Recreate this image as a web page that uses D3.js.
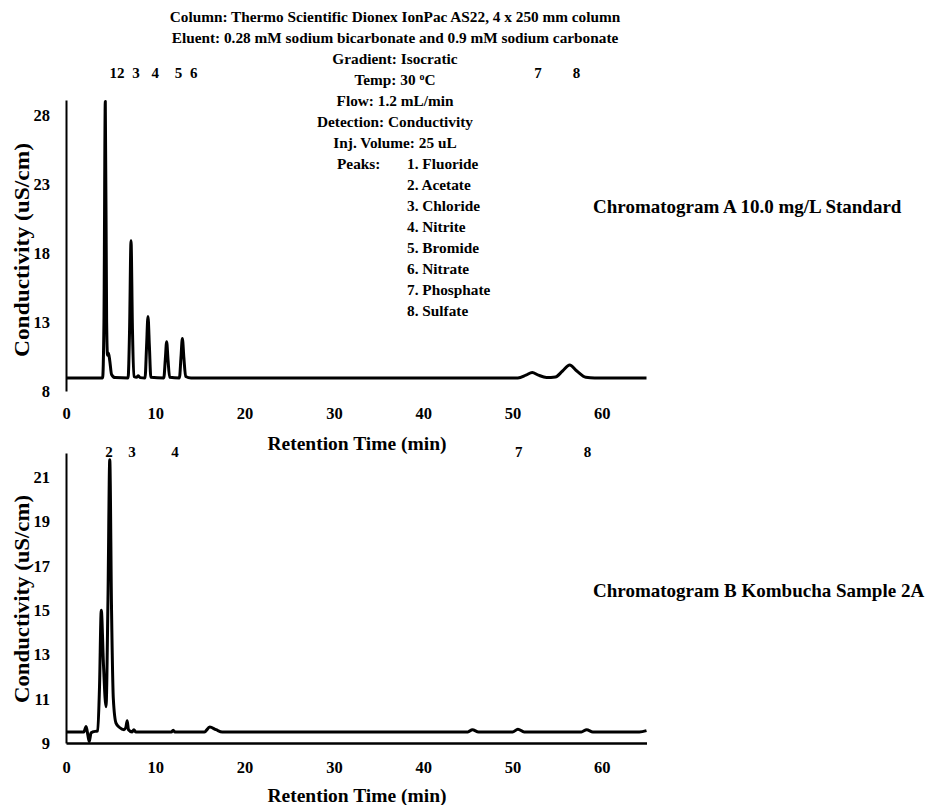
<!DOCTYPE html>
<html>
<head>
<meta charset="utf-8">
<script src="https://cdn.jsdelivr.net/npm/d3@7"></script>
<style>
  html, body { margin: 0; padding: 0; background: #fff; }
  svg { display: block; }
  text { font-family: "Liberation Serif", "Times New Roman", serif; font-weight: bold; fill: #000; }
</style>
</head>
<body>
<svg id="chart" width="932" height="805"></svg>
<script>
// ---------- data ----------
const xTicks = [0, 10, 20, 30, 40, 50, 60];
const yTicksA = [8, 13, 18, 23, 28];
const yTicksB = [9, 11, 13, 15, 17, 19, 21];

// Chromatogram A (10.0 mg/L standard): retention time (min) and conductivity (uS/cm)
const timeA = [0, 4.1, 4.25, 4.4, 4.55, 4.65, 4.75, 4.9, 5.1, 5.5, 6.95, 7.12, 7.28, 7.44, 7.6, 7.9, 8.1, 8.3, 8.85, 9.02, 9.18, 9.34, 9.5, 10.95, 11.12, 11.27, 11.42, 11.6, 12.7, 12.87, 13.03, 13.2, 13.4, 14.0, 50.6, 51.5, 52.2, 52.9, 53.8, 54.8, 55.6, 56.4, 57.2, 58.2, 59.2, 65];
const valueA = [8.95, 8.95, 13, 29.0, 13, 10.6, 10.75, 10.2, 9.2, 8.97, 8.95, 12.5, 18.9, 12.5, 9.05, 9.0, 9.1, 8.97, 8.95, 11.2, 13.4, 11.2, 9.0, 8.95, 10.3, 11.57, 10.3, 9.0, 8.95, 10.4, 11.8, 10.4, 9.05, 8.95, 8.95, 9.15, 9.35, 9.15, 8.98, 9.02, 9.45, 9.88, 9.45, 9.0, 8.95, 8.95];

// Chromatogram B (Kombucha sample 2A)
const timeB = [0, 2.0, 2.25, 2.45, 2.6, 2.8, 3.0, 3.55, 3.75, 3.95, 4.2, 4.48, 4.7, 4.9, 5.1, 5.3, 5.6, 6.0, 6.5, 6.7, 6.85, 7.0, 7.4, 7.6, 7.8, 11.8, 12.0, 12.2, 15.5, 16.1, 16.8, 17.5, 45.0, 45.5, 46.2, 50.0, 50.6, 51.3, 57.7, 58.3, 59.0, 64.2, 65];
const valueB = [9.5, 9.5, 9.75, 9.35, 9.07, 9.45, 9.5, 9.55, 11.5, 15.0, 12.5, 10.64, 15.5, 21.8, 15, 11, 9.9, 9.7, 9.6, 9.7, 10.0, 9.6, 9.5, 9.6, 9.5, 9.5, 9.58, 9.5, 9.5, 9.72, 9.6, 9.5, 9.5, 9.6, 9.5, 9.5, 9.62, 9.5, 9.5, 9.6, 9.5, 9.5, 9.56];

// peak number labels (text, retention time position)
const peakLabelsA = ["12", "3", "4", "5", "6", "7", "8"];
const peakLabelTimesA = [5.7, 7.85, 10.0, 12.6, 14.3, 52.85, 57.15];
const peakLabelsB = ["2", "3", "4", "7", "8"];
const peakLabelTimesB = [4.82, 7.4, 12.2, 50.7, 58.4];

const infoLines = [
  "Column: Thermo Scientific Dionex IonPac AS22, 4 x 250 mm column",
  "Eluent: 0.28 mM sodium bicarbonate and 0.9 mM sodium carbonate",
  "Gradient: Isocratic",
  "TEMP",
  "Flow: 1.2 mL/min",
  "Detection: Conductivity",
  "Inj. Volume: 25 uL"
];
const peakNames = ["1. Fluoride", "2. Acetate", "3. Chloride", "4. Nitrite", "5. Bromide", "6. Nitrate", "7. Phosphate", "8. Sulfate"];

const titleA = "Chromatogram A 10.0 mg/L Standard";
const titleB = "Chromatogram B Kombucha Sample 2A";
const yTitle = "Conductivity (uS/cm)";
const xTitle = "Retention Time (min)";

// ---------- drawing ----------
const svg = d3.select("#chart");
svg.append("rect").attr("width", 932).attr("height", 805).attr("fill", "#fff");

const xA = d3.scaleLinear().domain([0, 65]).range([66, 646.5]);
const xB = d3.scaleLinear().domain([0, 65]).range([66, 646.5]);
const yA = d3.scaleLinear().domain([8, 29.1]).range([391, 100]);
const yB = d3.scaleLinear().domain([9, 22.1]).range([743, 453]);

function styleAxisText(g, size) {
  g.selectAll("text").style("font-size", size + "px")
    .style("font-family", '"Liberation Serif", "Times New Roman", serif')
    .style("font-weight", "bold").attr("fill", "#000");
}

// Y axes
const gYA = svg.append("g").attr("transform", "translate(66,0)")
  .call(d3.axisLeft(yA).tickValues(yTicksA).tickSize(0).tickPadding(16));
gYA.select(".domain").attr("stroke", "#000").attr("stroke-width", 2);
styleAxisText(gYA, 16.5);

const gYB = svg.append("g").attr("transform", "translate(66,0)")
  .call(d3.axisLeft(yB).tickValues(yTicksB).tickSize(0).tickPadding(16));
gYB.select(".domain").attr("stroke", "#000").attr("stroke-width", 2);
styleAxisText(gYB, 16.5);

// X axes
const gXA = svg.append("g").attr("transform", "translate(0,391)")
  .call(d3.axisBottom(xA).tickValues(xTicks).tickSize(0).tickPadding(16));
gXA.select(".domain").remove();
styleAxisText(gXA, 16.5);

const gXB = svg.append("g").attr("transform", "translate(0,743)")
  .call(d3.axisBottom(xB).tickValues(xTicks).tickSize(0).tickPadding(18));
gXB.select(".domain").attr("stroke", "#000").attr("stroke-width", 2.5);
styleAxisText(gXB, 16.5);

// lines
const lineA = d3.line().x((d, i) => xA(timeA[i])).y((d, i) => yA(valueA[i])).curve(d3.curveMonotoneX);
const lineB = d3.line().x((d, i) => xB(timeB[i])).y((d, i) => yB(valueB[i])).curve(d3.curveMonotoneX);

svg.append("path").datum(valueA).attr("d", lineA)
  .attr("fill", "none").attr("stroke", "#000").attr("stroke-width", 3).attr("stroke-linejoin", "round");
svg.append("path").datum(valueB).attr("d", lineB)
  .attr("fill", "none").attr("stroke", "#000").attr("stroke-width", 3).attr("stroke-linejoin", "round");

// axis titles
function yTitleAt(cy, len) {
  svg.append("text").attr("transform", `translate(29,${cy}) rotate(-90)`)
    .attr("text-anchor", "middle").style("font-size", "21px")
    .attr("textLength", len).attr("lengthAdjust", "spacingAndGlyphs")
    .text(yTitle);
}
yTitleAt(250, 214);
yTitleAt(599, 208);

svg.append("text").attr("x", 357).attr("y", 450).attr("text-anchor", "middle")
  .style("font-size", "19.5px").text(xTitle);
svg.append("text").attr("x", 357).attr("y", 802).attr("text-anchor", "middle")
  .style("font-size", "19.5px").text(xTitle);

// peak labels
svg.selectAll("text.plA").data(peakLabelsA).enter().append("text").attr("class", "plA")
  .attr("x", (d, i) => xA(peakLabelTimesA[i])).attr("y", 78).attr("text-anchor", "middle")
  .style("font-size", "15px").text(d => d);
svg.selectAll("text.plB").data(peakLabelsB).enter().append("text").attr("class", "plB")
  .attr("x", (d, i) => xB(peakLabelTimesB[i])).attr("y", 457).attr("text-anchor", "middle")
  .style("font-size", "15px").text(d => d);

// info block
const infoG = svg.append("g");
infoLines.forEach((t, i) => {
  const tx = infoG.append("text").attr("x", 395).attr("y", 22 + i * 21)
    .attr("text-anchor", "middle").style("font-size", "15.3px");
  if (t === "TEMP") {
    tx.append("tspan").text("Temp: 30 ");
    tx.append("tspan").attr("dy", -5).style("font-size", "10px").text("o");
    tx.append("tspan").attr("dy", 5).text("C");
  } else {
    tx.text(t);
  }
});
infoG.append("text").attr("x", 337).attr("y", 22 + 7 * 21).style("font-size", "15.3px").text("Peaks:");
peakNames.forEach((t, i) => {
  infoG.append("text").attr("x", 407).attr("y", 22 + (7 + i) * 21).style("font-size", "15.3px").text(t);
});

// chromatogram titles
svg.append("text").attr("x", 593).attr("y", 213).style("font-size", "19px").text(titleA);
svg.append("text").attr("x", 593).attr("y", 597).style("font-size", "19px").text(titleB);
</script>
</body>
</html>
